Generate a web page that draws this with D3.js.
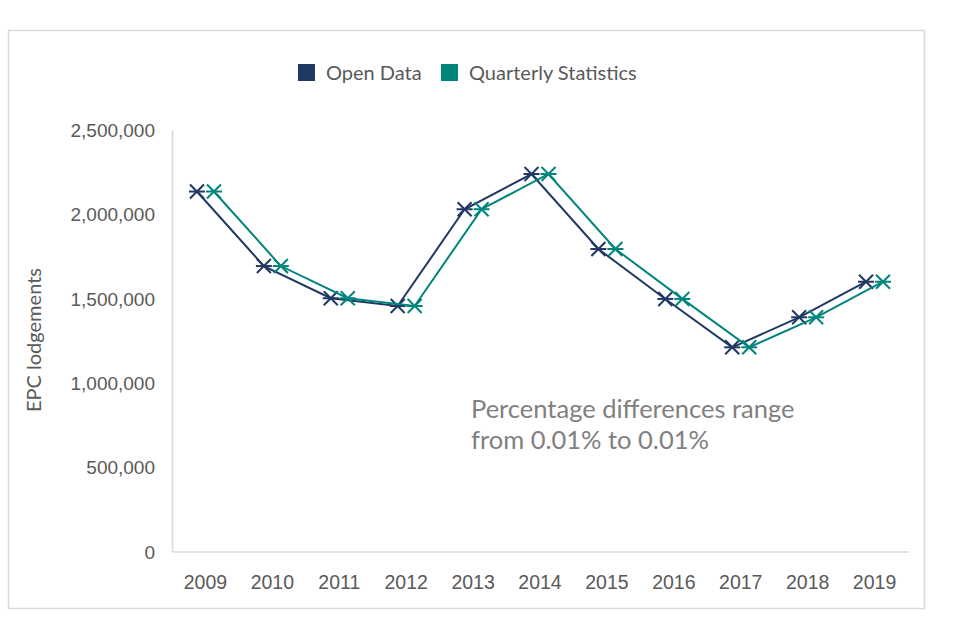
<!DOCTYPE html>
<html>
<head>
<meta charset="utf-8">
<script src="https://cdn.jsdelivr.net/npm/d3@7"></script>
<style>
  body { margin: 0; background: #fff; }
  svg { display: block; font-family: Lato, "Open Sans", sans-serif; }
</style>
</head>
<body>
<div id="chart"></div>
<script>
// chart data
var years = ["2009", "2010", "2011", "2012", "2013", "2014", "2015", "2016", "2017", "2018", "2019"];
var openData = [2135000, 1693000, 1502000, 1456000, 2030000, 2239000, 1794000, 1498000, 1211000, 1389000, 1600000];
var quarterlyStats = [2135200, 1693100, 1502100, 1456100, 2030200, 2239200, 1794100, 1498100, 1211100, 1389100, 1600100];
var yTicks = [0, 500000, 1000000, 1500000, 2000000, 2500000];
var seriesNames = ["Open Data", "Quarterly Statistics"];
var noteLines = ["Percentage differences range", "from 0.01% to 0.01%"];

var width = 960, height = 640;
var colors = ["#203864", "#00857d"];
var textColor = "#595959";

var svg = d3.select("#chart").append("svg")
    .attr("width", width)
    .attr("height", height);

// outer chart border
svg.append("rect")
    .attr("x", 8.5).attr("y", 30.5)
    .attr("width", 916).attr("height", 578)
    .attr("fill", "#fff")
    .attr("stroke", "#d9d9d9")
    .attr("stroke-width", 1.5);

var margin = {left: 172, right: 908, top: 130, bottom: 551.5};

var x = d3.scaleBand().domain(years).range([margin.left, margin.right]);
var y = d3.scaleLinear().domain([0, 2500000]).range([margin.bottom, margin.top]);

// y axis
var yAxis = svg.append("g")
    .attr("transform", "translate(" + margin.left + ",0)")
    .call(d3.axisLeft(y).tickValues(yTicks).tickSize(0).tickPadding(17).tickFormat(d3.format(",")));
yAxis.select(".domain").attr("stroke", "#d9d9d9").attr("stroke-width", 1.5);
yAxis.selectAll("text").attr("fill", textColor).style("font-size", "19px").attr("dy", "0.35em");

// x axis
var xAxis = svg.append("g")
    .attr("transform", "translate(0," + margin.bottom + ")")
    .call(d3.axisBottom(x).tickSize(0).tickPadding(24));
xAxis.select(".domain").attr("stroke", "#d9d9d9").attr("stroke-width", 1.5);
xAxis.selectAll("text").attr("fill", textColor).style("font-size", "19.5px");

// y axis title
svg.append("text")
    .attr("transform", "translate(41,340) rotate(-90)")
    .attr("text-anchor", "middle")
    .attr("fill", textColor)
    .style("font-size", "20px")
    .text("EPC lodgements");

// series, each shifted a little either side of the category centre
var offsets = [-8.5, 8.5];
[openData, quarterlyStats].forEach(function(values, s) {
    var line = d3.line()
        .x(function(d, i) { return x(years[i]) + x.bandwidth() / 2 + offsets[s]; })
        .y(function(d) { return y(d); });

    svg.append("path")
        .datum(values)
        .attr("fill", "none")
        .attr("stroke", colors[s])
        .attr("stroke-width", 2)
        .attr("d", line);

    var marks = svg.selectAll(".mark-" + s)
        .data(values)
        .enter().append("g")
        .attr("class", "mark-" + s)
        .attr("transform", function(d, i) {
            return "translate(" + (x(years[i]) + x.bandwidth() / 2 + offsets[s]) + "," + y(d) + ")";
        })
        .attr("stroke", colors[s])
        .attr("stroke-width", 2);
    var r = 7;
    marks.append("line").attr("x1", -r).attr("y1", -r).attr("x2", r).attr("y2", r);
    marks.append("line").attr("x1", -r).attr("y1", r).attr("x2", r).attr("y2", -r);
    marks.append("line").attr("x1", -r - 1).attr("y1", 0).attr("x2", r + 1).attr("y2", 0);
});

// legend
var legendX = [298, 441];
var legend = svg.selectAll(".legend")
    .data(seriesNames)
    .enter().append("g")
    .attr("class", "legend")
    .attr("transform", function(d, i) { return "translate(" + legendX[i] + ",64)"; });
legend.append("rect")
    .attr("width", 17).attr("height", 17)
    .attr("fill", function(d, i) { return colors[i]; });
legend.append("text")
    .attr("x", 28).attr("y", 9)
    .attr("dy", "0.35em")
    .attr("fill", textColor)
    .style("font-size", "20px")
    .text(function(d) { return d; });

// annotation
svg.selectAll(".note")
    .data(noteLines)
    .enter().append("text")
    .attr("class", "note")
    .attr("x", 471)
    .attr("y", function(d, i) { return 418 + i * 31; })
    .attr("fill", "#808080")
    .style("font-size", "25.5px")
    .text(function(d) { return d; });
</script>
</body>
</html>
